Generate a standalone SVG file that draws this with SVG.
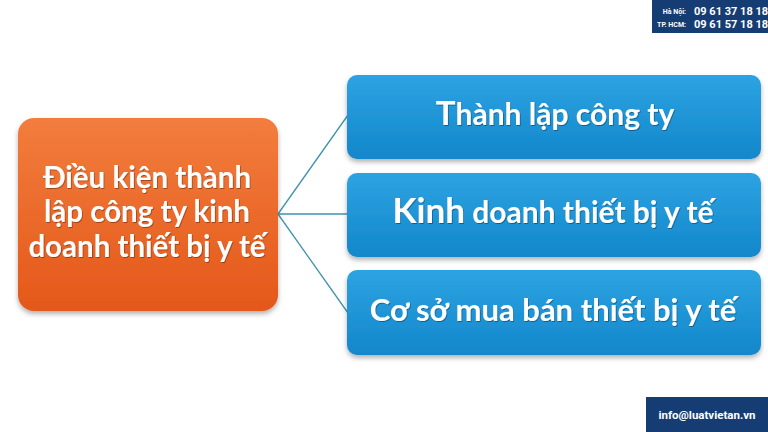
<svg xmlns="http://www.w3.org/2000/svg" width="768" height="432" viewBox="0 0 768 432">
<defs>
<linearGradient id="og" x1="0" y1="0" x2="0" y2="1"><stop offset="0" stop-color="#f27d3d"/><stop offset="1" stop-color="#e4581a"/></linearGradient>
<linearGradient id="bg" x1="0" y1="0" x2="0" y2="1"><stop offset="0" stop-color="#2da3e2"/><stop offset="1" stop-color="#1287cb"/></linearGradient>
<filter id="sh" x="-10%" y="-10%" width="120%" height="130%"><feDropShadow dx="0" dy="3" stdDeviation="2.5" flood-color="#000" flood-opacity="0.3"/></filter>
<filter id="ts" x="-5%" y="-20%" width="110%" height="140%"><feDropShadow dx="0.8" dy="1" stdDeviation="0.6" flood-color="#000" flood-opacity="0.35"/></filter>
</defs>
<style>
.main{font-family:Lato,"Open Sans","Liberation Sans",sans-serif;font-weight:bold;fill:#fff}
.badge{fill:#163d73}
.ph{font-family:"Roboto","Liberation Sans",sans-serif;font-weight:bold;fill:#fff}
.conn{stroke:#3f93ad;stroke-width:1.3;fill:none}
</style>
<rect width="768" height="432" fill="#fff"/>
<g id="connectors">
<line class="conn" x1="278" y1="214" x2="348" y2="115"/>
<line class="conn" x1="278" y1="214" x2="348" y2="214"/>
<line class="conn" x1="278" y1="214" x2="348" y2="313"/>
</g>
<g id="root">
<rect x="18" y="118" width="260" height="193" rx="16" fill="url(#og)" filter="url(#sh)"/>
<g class="main" font-size="29.5" text-anchor="middle" filter="url(#ts)">
<text x="147" y="188">Điều kiện thành</text>
<text x="147" y="222">lập công ty kinh</text>
<text x="147" y="257">doanh thiết bị y tế</text>
</g>
</g>
<g id="n1">
<rect x="347" y="75" width="414" height="84" rx="10" fill="url(#bg)" filter="url(#sh)"/>
<text class="main" x="555" y="125" font-size="30" text-anchor="middle" filter="url(#ts)"><tspan font-size="33">T</tspan>hành lập công ty</text>
</g>
<g id="n2">
<rect x="347" y="173" width="414" height="84" rx="10" fill="url(#bg)" filter="url(#sh)"/>
<text class="main" x="553" y="223" font-size="30" text-anchor="middle" filter="url(#ts)"><tspan font-size="35">Kinh</tspan> doanh thiết bị y tế</text>
</g>
<g id="n3">
<rect x="347" y="270" width="414" height="85" rx="10" fill="url(#bg)" filter="url(#sh)"/>
<text class="main" x="553" y="321" font-size="31" text-anchor="middle" filter="url(#ts)">Cơ sở mua bán thiết bị y tế</text>
</g>
<g id="hotline">
<rect class="badge" x="652" y="0" width="116" height="33"/>
<text class="ph" x="686" y="14" font-size="7" text-anchor="end">Hà Nội:</text>
<text class="ph" x="686" y="27" font-size="7" text-anchor="end">TP. HCM:</text>
<text class="ph" x="694" y="15" font-size="11">09 61 37 18 18</text>
<text class="ph" x="694" y="28" font-size="11">09 61 57 18 18</text>
</g>
<g id="email">
<rect class="badge" x="646" y="397" width="122" height="35"/>
<text class="ph" x="707" y="419" font-size="11.5" text-anchor="middle">info@luatvietan.vn</text>
</g>
</svg>
